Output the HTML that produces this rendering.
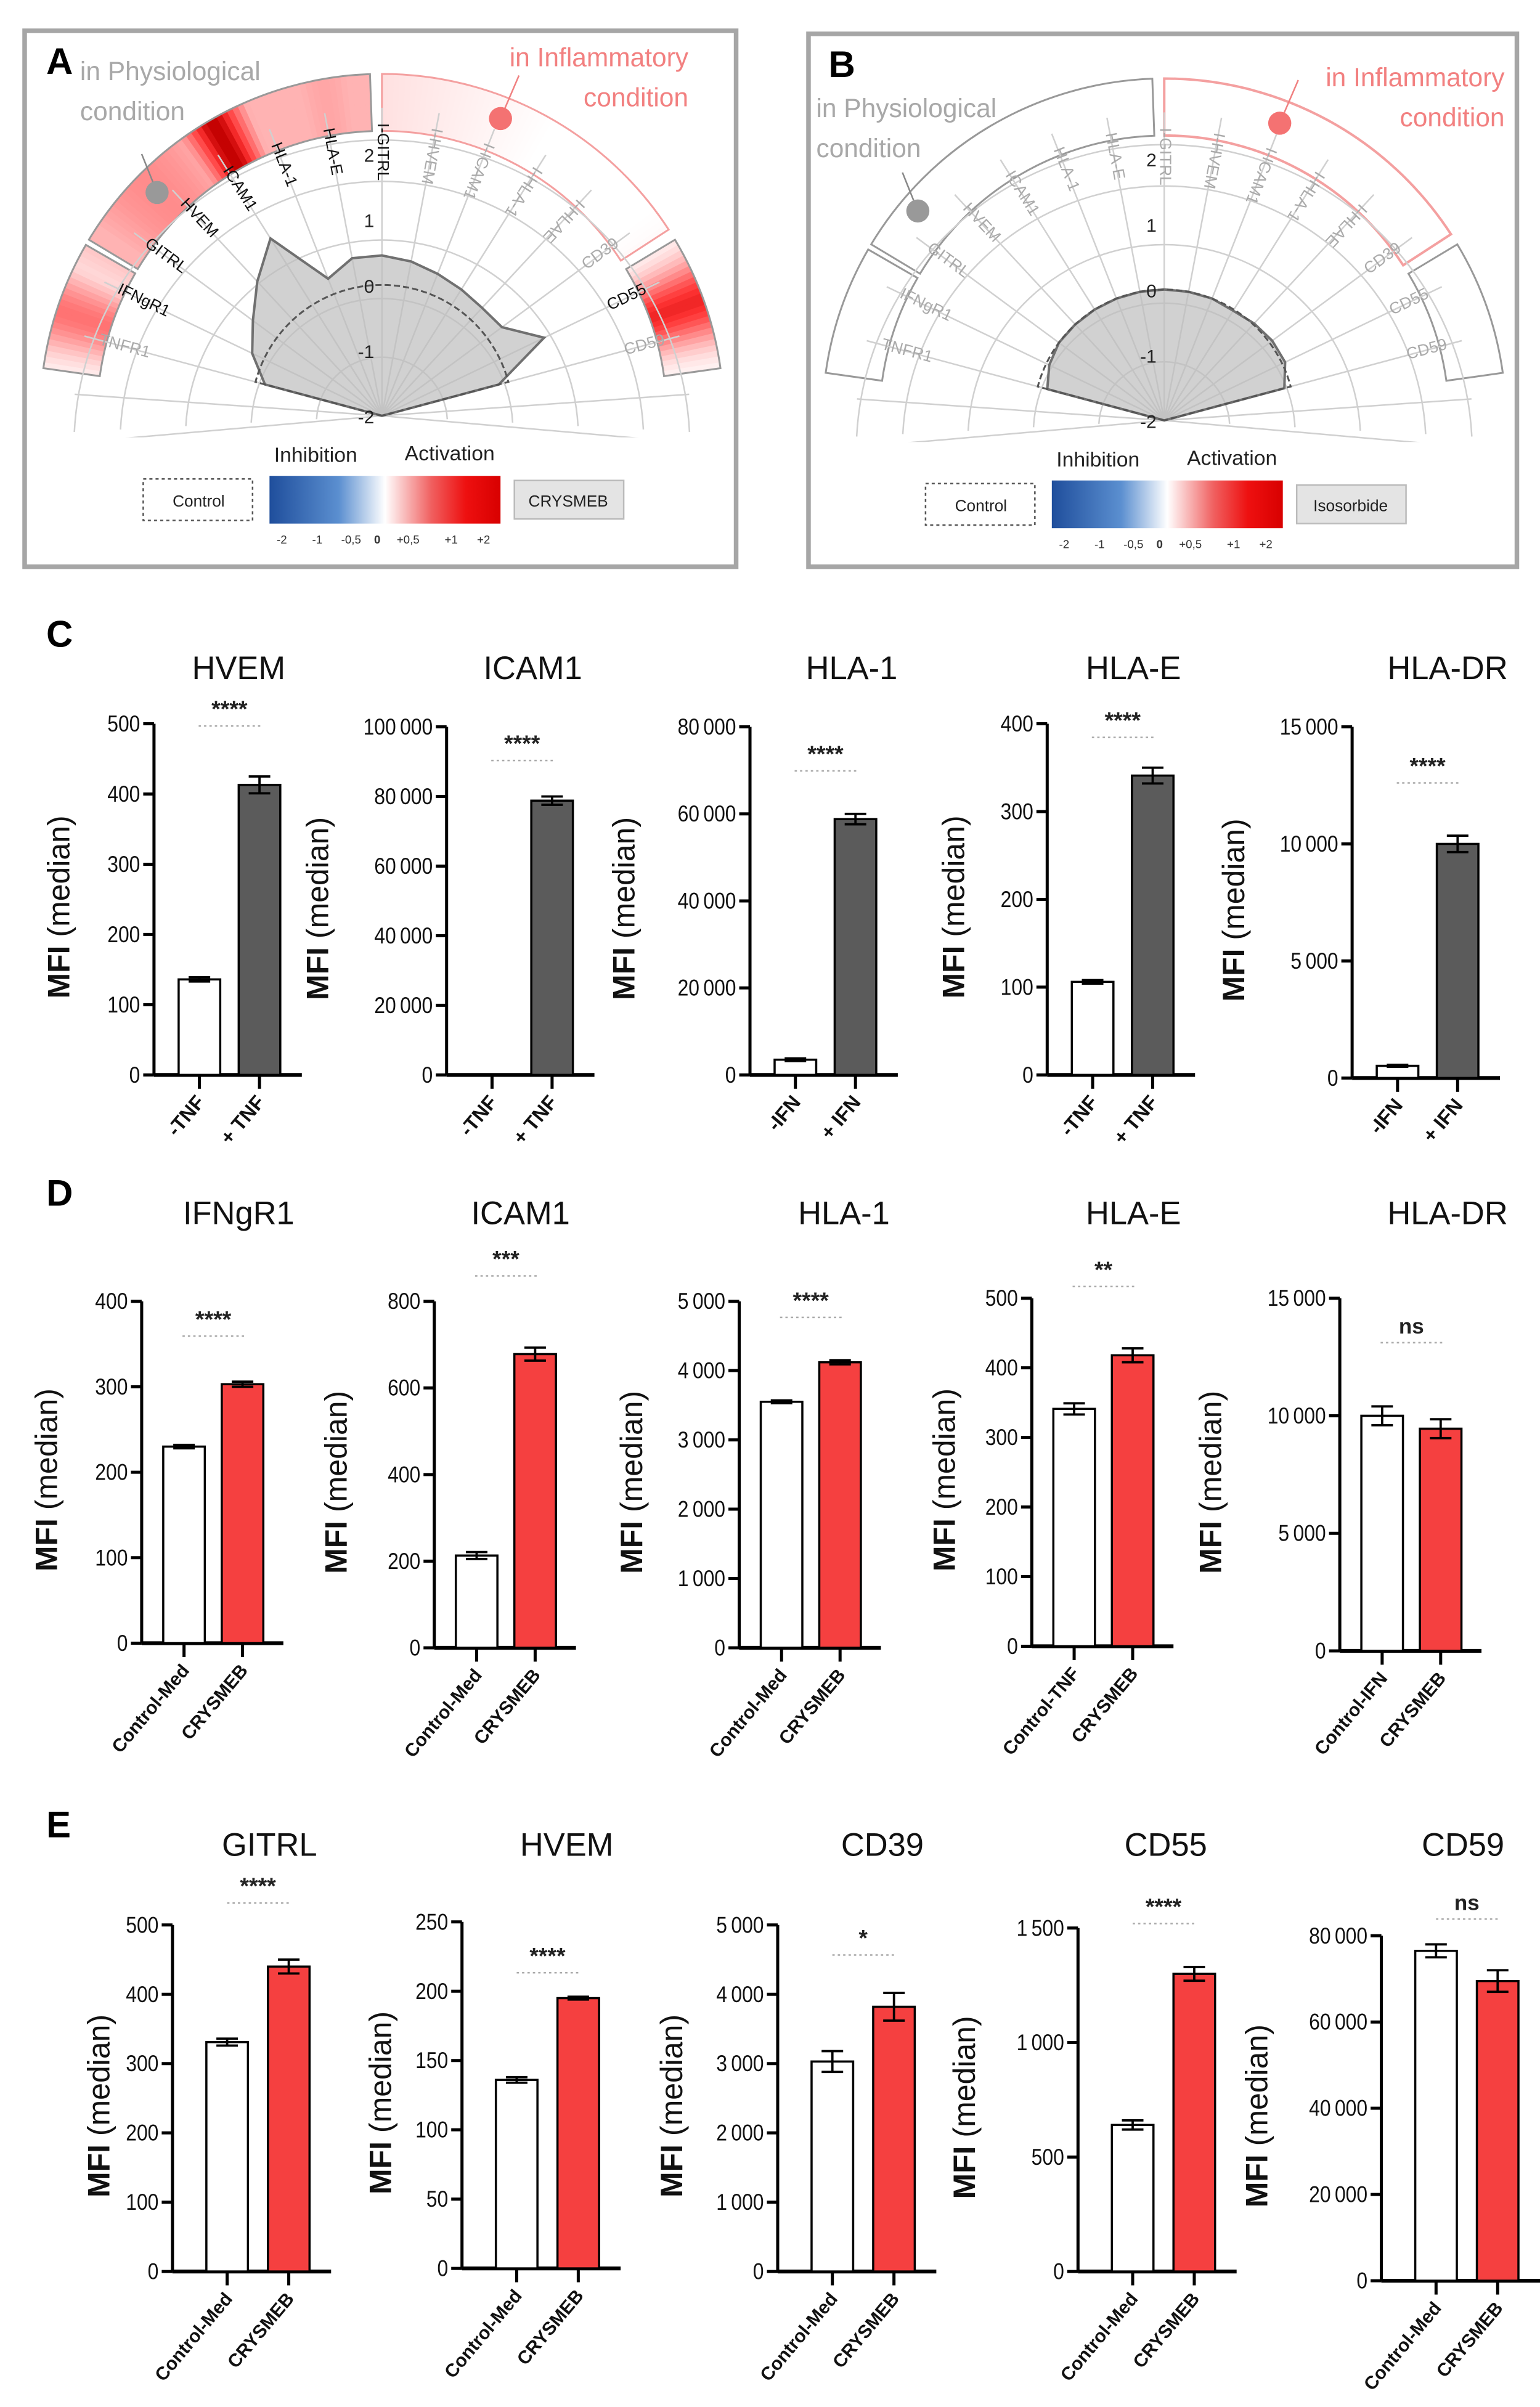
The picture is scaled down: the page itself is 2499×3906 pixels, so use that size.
<!DOCTYPE html>
<html><head><meta charset="utf-8"><style>
html,body{margin:0;padding:0;background:#fff;}
svg{display:block;font-family:"Liberation Sans",sans-serif;}
</style></head><body>
<svg id="fig" width="2499" height="3906" viewBox="0 0 1000 1563" preserveAspectRatio="none" xmlns="http://www.w3.org/2000/svg">
<defs>
<linearGradient id="scale" x1="0" x2="1" y1="0" y2="0">
<stop offset="0" stop-color="#1f4e9c"/><stop offset="0.3" stop-color="#5b8fd0"/><stop offset="0.5" stop-color="#ffffff"/><stop offset="0.7" stop-color="#f06060"/><stop offset="0.85" stop-color="#ee1010"/><stop offset="1" stop-color="#d80000"/>
</linearGradient>
</defs>
<g id="panelA"></g>
<g id="panelB"></g>
<g id="bars"></g>
</svg>
<script>
// ---------- Radar data ----------
const radarLabels = ["TNFR1","IFNgR1","GITRL","HVEM","ICAM1","HLA-1","HLA-E","I-GITRL","I-HVEM","I-ICAM1","I-HLA-1","I-HLAE","CD39","CD55","CD59"];
const radarA = [-0.15,0.2,0.45,0.8,1.2,0.25,0.45,0.45,0.4,0.33,0.28,0.25,0.28,0.75,-0.15];
const radarB = [-0.15,-0.05,0,0,0,0,0,0,0,0,-0.02,0.02,0.05,0.05,-0.1];
const radarControl = [0,0,0,0,0,0,0,0,0,0,0,0,0,0,0];
const radarTicks = [2,1,0,-1,-2];
const aDarkLabels = [false,true,true,true,true,true,true,true,false,false,false,false,false,true,false];

// ---------- Bar data: row C ----------
const cTitles = ["HVEM","ICAM1","HLA-1","HLA-E","HLA-DR"];
const cCtrl = [136,0,3500,106,520];
const cTreat = [413,78800,58800,341,10000];
const cCtrlErr = [3,0,300,2,40];
const cTreatErr = [12,1200,1200,9,350];
const cMax = [500,100000,80000,400,15000];
const cStep = [100,20000,20000,100,5000];
const cSig = ["****","****","****","****","****"];
const cSigVal = [510,93000,72000,395,13000];
const cLab1 = ["-TNF","-TNF","-IFN","-TNF","-IFN"];
const cLab2 = ["+ TNF","+ TNF","+ IFN","+ TNF","+ IFN"];
// ---------- row D ----------
const dTitles = ["IFNgR1","ICAM1","HLA-1","HLA-E","HLA-DR"];
const dCtrl = [230,213,3550,341,10000];
const dTreat = [303,678,4120,418,9450];
const dCtrlErr = [2,8,20,8,400];
const dTreatErr = [3,15,30,10,400];
const dMax = [400,800,5000,500,15000];
const dStep = [100,200,1000,100,5000];
const dSig = ["****","***","****","**","ns"];
const dSigVal = [370,880,4900,530,13500];
const dLab1 = ["Control-Med","Control-Med","Control-Med","Control-TNF","Control-IFN"];
const dLab2 = ["CRYSMEB","CRYSMEB","CRYSMEB","CRYSMEB","CRYSMEB"];
// ---------- row E ----------
const eTitles = ["GITRL","HVEM","CD39","CD55","CD59"];
const eCtrl = [331,136,3030,640,76500];
const eTreat = [440,195,3820,1300,69500];
const eCtrlErr = [5,2,150,20,1500];
const eTreatErr = [10,1,200,30,2500];
const eMax = [500,250,5000,1500,80000];
const eStep = [100,50,1000,500,20000];
const eSig = ["****","****","*","****","ns"];
const eSigVal = [545,220,4700,1560,86000];
const eLab1 = ["Control-Med","Control-Med","Control-Med","Control-Med","Control-Med"];
const eLab2 = ["CRYSMEB","CRYSMEB","CRYSMEB","CRYSMEB","CRYSMEB"];

// ---------- layout (positions only) ----------
const layoutC = {axisX:[100,290,487,680,878], y0:[698,698,698,698,700], yTop:[470,472,472,470,472], titleX:[155,346,553,736,940], titleY:441, ylabX:[45,213,412,626,808], off:[16,55,96], color:"#5b5b5b"};
const layoutD = {axisX:[92,282,480,670,870], y0:[1067,1070,1070,1069,1072], yTop:[845,845,845,843,843], titleX:[155,338,548,736,940], titleY:795, ylabX:[37,225,417,620,793], off:[14,52,92], color:"#f54040"};
const layoutE = {axisX:[112,300,505,700,897], y0:[1475,1473,1475,1475,1481], yTop:[1250,1248,1250,1252,1257], titleX:[175,368,573,757,950], titleY:1205, ylabX:[71,254,443,633,823], off:[22,62,103], color:"#f54040"};

const NS = "http://www.w3.org/2000/svg";
function mk(parent, tag, attrs, text){
  const el = document.createElementNS(NS, tag);
  for (const k in attrs) el.setAttribute(k, attrs[k]);
  if (text !== undefined) el.textContent = text;
  parent.appendChild(el);
  return el;
}
function fmt(v){ return String(v).replace(/\B(?=(\d{3})+(?!\d))/g, "\u2009"); }

function drawBar(root, row, i, L, titles, ctrl, treat, cErr, tErr, maxs, steps, sigs, sigVals, lab1, lab2, small){
  const g = mk(root, "g", {});
  
  
  const ax = L.axisX[i], y0 = L.y0[i], yTop = L.yTop[i], max = maxs[i];
  const Y = v => y0 - (v / max) * (y0 - yTop);
  const t = mk(g, "text", {x:L.titleX[i], y:L.titleY, "font-size":21, "text-anchor":"middle", fill:"#111"}, titles[i]);
  
  
  // y axis
  const ya = mk(g, "line", {x1:ax, x2:ax, y1:yTop, y2:y0, stroke:"#000", "stroke-width":2});
  
  
  for (let v = 0; v <= max + 1e-9; v += steps[i]) {
    const yy = Y(v);
    const tk = mk(g, "line", {x1:ax-7, x2:ax, y1:yy, y2:yy, stroke:"#000", "stroke-width":2});
    
    
    const tl = mk(g, "text", {x:ax-9, y:yy+5, "font-size":15, "text-anchor":"end", fill:"#111", transform:`translate(${ax-9},0) scale(0.85,1) translate(${-(ax-9)},0)`}, fmt(v));
    
    
  }
  // x axis
  const xa = mk(g, "line", {x1:ax, x2:ax+L.off[2], y1:y0, y2:y0, stroke:"#000", "stroke-width":2.5});
  
  
  const bw = 27;
  const vals = [ctrl[i], treat[i]], errs = [cErr[i], tErr[i]], labs = [lab1[i], lab2[i]];
  for (let k = 0; k < 2; k++) {
    const x = ax + L.off[k], cx = x + bw/2, top = Y(vals[k]);
    if (vals[k] > 0) {
      const b = mk(g, "rect", {x:x, y:top, width:bw, height:y0-top, fill:k ? L.color : "#fff", stroke:"#000", "stroke-width":1.4});
      
      
    }
    if (errs[k] > 0) {
      const e1 = Y(vals[k] + errs[k]), e2 = Y(vals[k] - errs[k]);
      const eb = mk(g, "path", {d:`M${cx},${e1}V${e2}M${cx-7},${e1}H${cx+7}M${cx-7},${e2}H${cx+7}`, stroke:"#000", "stroke-width":1.5, fill:"none"});
      
      
    }
    const xt = mk(g, "line", {x1:cx, x2:cx, y1:y0, y2:y0+9, stroke:"#000", "stroke-width":2});
    
    
    const xl = mk(g, "text", {x:cx+4, y:y0+18, "font-size":small ? 12 : 13, "font-weight":"bold", "text-anchor":"end", fill:"#111", transform:`rotate(-50 ${cx+4} ${y0+18})`}, labs[k]);
    
    
  }
  // significance
  const sx = ax + (L.off[0] + L.off[1] + bw) / 2, sy = Y(sigVals[i]);
  const st = mk(g, "text", {x:sx, y:sy, "font-size":sigs[i]==="ns"?14:15, "font-weight":"bold", "text-anchor":"middle", fill:"#222"}, sigs[i]);
  
  
  const sl = mk(g, "line", {x1:sx-20, x2:sx+20, y1:sy+6, y2:sy+6, stroke:"#aaa", "stroke-width":1, "stroke-dasharray":"1.5 2"});
  
  
  // y label
  const ycy = (y0 + yTop) / 2 + 5;
  const yl = mk(g, "text", {x:L.ylabX[i], y:ycy, "font-size":20, "text-anchor":"middle", fill:"#111", transform:`rotate(-90 ${L.ylabX[i]} ${ycy})`});
  
  
  mk(yl, "tspan", {"font-weight":"bold"}, "MFI");
  mk(yl, "tspan", {}, " (median)");
}

const barsRoot = document.getElementById("bars");
for (let i = 0; i < 5; i++) drawBar(barsRoot, "c", i, layoutC, cTitles, cCtrl, cTreat, cCtrlErr, cTreatErr, cMax, cStep, cSig, cSigVal, cLab1, cLab2, false);
for (let i = 0; i < 5; i++) drawBar(barsRoot, "d", i, layoutD, dTitles, dCtrl, dTreat, dCtrlErr, dTreatErr, dMax, dStep, dSig, dSigVal, dLab1, dLab2, true);
for (let i = 0; i < 5; i++) drawBar(barsRoot, "e", i, layoutE, eTitles, eCtrl, eTreat, eCtrlErr, eTreatErr, eMax, eStep, eSig, eSigVal, eLab1, eLab2, true);
[["C",30,420],["D",30,783],["E",30,1193]].forEach(p => {
  const t = mk(barsRoot, "text", {x:p[1], y:p[2], "font-size":24, "font-weight":"bold", fill:"#000"}, p[0]);
  
  
});

// ---------- Radar panels ----------
function pol(cx, cy, r, deg){ const a = deg*Math.PI/180; return [cx + r*Math.cos(a), cy - r*Math.sin(a)]; }
function bandColorA(deg){
  // returns intensity 0..1 of red for panel A band
  const peaks = [[162,0.55,7],[120,1.0,6],[135,0.45,18],[100,0.35,10],[20,0.85,7]];
  let v = 0;
  for (const p of peaks) v = Math.max(v, p[1]*Math.exp(-Math.pow((deg-p[0])/p[2],2)));
  if (deg > 92 && deg < 150) v = Math.max(v, 0.3);
  if (deg > 60 && deg < 91) v = Math.max(v, 0.12*(deg-60)/30);
  return v;
}
function redMix(v){
  const dark = v > 0.8 ? (v-0.8)/0.2 : 0;
  const r = Math.round(255 - dark*60), gg = Math.round(255*(1-v)), b = Math.round(255*(1-v));
  return `rgb(${r},${gg},${b})`;
}
function annulusPath(cx, cy, r1, r2, a1, a2){
  const p1 = pol(cx,cy,r2,a1), p2 = pol(cx,cy,r2,a2), p3 = pol(cx,cy,r1,a2), p4 = pol(cx,cy,r1,a1);
  const large = Math.abs(a1-a2) > 180 ? 1 : 0;
  return `M${p1[0]},${p1[1]}A${r2},${r2} 0 ${large} 1 ${p2[0]},${p2[1]}L${p3[0]},${p3[1]}A${r1},${r1} 0 ${large} 0 ${p4[0]},${p4[1]}Z`;
}
function drawRadar(rootId, cx, cy, values, colored, legendName, darkLabels, box){
  const root = document.getElementById(rootId);
  const U = 42.5;
  const R = v => (v + 2) * U;
  const fr = mk(root, "rect", {x:box[0], y:box[1], width:box[2], height:box[3], fill:"#fff", stroke:"#a6a6a6", "stroke-width":3});
  
  
  // band
  const segs = [[172,150],[149,92],[90,33],[31,8]];
  const r1 = 185, r2 = 222;
  segs.forEach((s, si) => {
    const sg = mk(root, "g", {});
    
    
    if (colored) {
      for (let d = s[1]; d < s[0]; d += 1) {
        mk(sg, "path", {d:annulusPath(cx,cy,r1,r2,d+1.05,d), fill:redMix(bandColorA(d+0.5)), stroke:"none"});
      }
    }
    const redOutline = si === 2;
    mk(sg, "path", {d:annulusPath(cx,cy,r1,r2,s[0],s[1]), fill:"none", stroke:redOutline ? "#f4a0a0" : "#999", "stroke-width":redOutline && !colored ? 1.6 : 1.2});
  });
  // grid
  const grid = mk(root, "g", {stroke:"#d0d0d0", "stroke-width":1, fill:"none"});
  
  
  const gridR = [U, 2*U, 3*U, 4*U, 200];
  gridR.forEach(r => {
    const a = pol(cx,cy,r,183), b = pol(cx,cy,r,-3);
    mk(grid, "path", {d:`M${a[0]},${a[1]}A${r},${r} 0 0 1 ${b[0]},${b[1]}`});
  });
  for (let k = 0; k < radarLabels.length; k++) {
    const ang = 165 - k*(150/14);
    const p = pol(cx,cy,200,ang);
    mk(grid, "line", {x1:cx, y1:cy, x2:p[0], y2:p[1]});
  }
  [176,4,185,-5].forEach(ang => { const p = pol(cx,cy,200,ang); mk(grid, "line", {x1:cx, y1:cy, x2:p[0], y2:p[1]}); });
  // labels
  for (let k = 0; k < radarLabels.length; k++) {
    const ang = 165 - k*(150/14);
    let t;
    if (ang >= 45) {
      const p = pol(cx,cy,190,ang);
      const rot = Math.atan2(Math.sin(ang*Math.PI/180), -Math.cos(ang*Math.PI/180))*180/Math.PI;
      t = mk(root, "text", {x:p[0], y:p[1], "font-size":10.5, "text-anchor":"start", "dominant-baseline":"middle", fill:darkLabels[k] ? "#111" : "#aaa", transform:`rotate(${rot} ${p[0]} ${p[1]})`}, radarLabels[k]);
    } else {
      const p = pol(cx,cy,190,ang);
      t = mk(root, "text", {x:p[0], y:p[1], "font-size":10.5, "text-anchor":"end", "dominant-baseline":"middle", fill:darkLabels[k] ? "#111" : "#aaa", transform:`rotate(${-ang} ${p[0]} ${p[1]})`}, radarLabels[k]);
    }
    
    
  }
  // polygon
  let pts = [[cx,cy]];
  for (let k = 0; k < values.length; k++) { const ang = 165 - k*(150/14); pts.push(pol(cx,cy,R(values[k]),ang)); }
  const poly = mk(root, "polygon", {points:pts.map(p=>p.join(",")).join(" "), fill:"rgba(190,190,190,0.7)", stroke:"#707070", "stroke-width":1.6});
  
  
  let cpts = [];
  for (let k = 0; k < radarControl.length; k++) { const ang = 165 - k*(150/14); cpts.push(pol(cx,cy,R(radarControl[k]),ang)); }
  const ctrl = mk(root, "path", {d:`M${cx},${cy}L${cpts[0][0]},${cpts[0][1]}A${R(0)},${R(0)} 0 0 1 ${cpts[cpts.length-1][0]},${cpts[cpts.length-1][1]}Z`, fill:"none", stroke:"#555", "stroke-width":1.2, "stroke-dasharray":"4 2"});
  
  
  radarTicks.forEach(v => {
    const t = mk(root, "text", {x:cx-5, y:cy - R(v) + 5, "font-size":12, "text-anchor":"end", fill:"#222"}, String(v));
    
    
  });
  // cover bottom
  mk(root, "rect", {x:box[0]+3, y:cy+14, width:box[2]-6, height:4, fill:"#fff"});
  // legend
  const lx = cx - 248;
  const inh = mk(root, "text", {x:cx-43, y:cy+30, "font-size":13.5, "text-anchor":"middle", fill:"#222"}, "Inhibition");
  
  
  const act = mk(root, "text", {x:cx+44, y:cy+29, "font-size":13.5, "text-anchor":"middle", fill:"#222"}, "Activation");
  
  
  const cb = mk(root, "rect", {x:cx-155, y:cy+41, width:71, height:27, fill:"#fff", stroke:"#555", "stroke-width":1, "stroke-dasharray":"2 2"});
  
  
  mk(root, "text", {x:cx-119, y:cy+59, "font-size":10.5, "text-anchor":"middle", fill:"#222"}, "Control");
  const gb = mk(root, "rect", {x:cx-73, y:cy+39, width:150, height:31, fill:"url(#scale)"});
  
  
  const tb = mk(root, "rect", {x:cx+86, y:cy+42, width:71, height:25, fill:"#e4e4e4", stroke:"#bbb", "stroke-width":1});
  
  
  mk(root, "text", {x:cx+121, y:cy+59, "font-size":10.5, "text-anchor":"middle", fill:"#222"}, legendName);
  const sc = [["-2",-65],["-1",-42],["-0,5",-20],["0",-3],["+0,5",17],["+1",45],["+2",66]];
  sc.forEach(s => {
    const t = mk(root, "text", {x:cx+s[1], y:cy+83, "font-size":7.5, "font-weight":s[0]==="0"?"bold":"normal", "text-anchor":"middle", fill:"#333"}, s[0]);
    
    
  });
}
drawRadar("panelA", 248, 270, radarA, true, "CRYSMEB", aDarkLabels, [16,20,462,348]);
drawRadar("panelB", 756, 273, radarB, false, "Isosorbide", radarLabels.map(()=>false), [525,22,460,346]);

// annotations
function annot(root, letter, lx, ly, phys, physY, inf, infX, infY, gdot, pdot){
  const R = document.getElementById(root);
  const L = mk(R, "text", {x:lx, y:ly, "font-size":24, "font-weight":"bold", fill:"#000"}, letter);
  
  
  const p = mk(R, "text", {x:phys, y:physY, "font-size":17, fill:"#a8a8a8"});
  
  
  mk(p, "tspan", {x:phys, dy:0}, "in Physiological");
  mk(p, "tspan", {x:phys, dy:26}, "condition");
  const f = mk(R, "text", {x:infX, y:infY, "font-size":17, fill:"#f28080", "text-anchor":"end"});
  
  
  mk(f, "tspan", {x:infX, dy:0}, "in Inflammatory");
  mk(f, "tspan", {x:infX, dy:26}, "condition");
  mk(R, "line", {x1:gdot[0]-10, y1:gdot[1]-25, x2:gdot[0], y2:gdot[1], stroke:"#888", "stroke-width":1});
  const gd = mk(R, "circle", {cx:gdot[0], cy:gdot[1], r:7.5, fill:"#999"});
  
  
  mk(R, "line", {x1:pdot[0]+12, y1:pdot[1]-28, x2:pdot[0], y2:pdot[1], stroke:"#f08080", "stroke-width":1});
  const pd = mk(R, "circle", {cx:pdot[0], cy:pdot[1], r:7.5, fill:"#f47272"});
  
  
}
annot("panelA", "A", 30, 48, 52, 52, 0, 447, 43, [102,125], [325,77]);
annot("panelB", "B", 538, 50, 530, 76, 0, 977, 56, [596,137], [831,80]);
</script>
</body></html>
